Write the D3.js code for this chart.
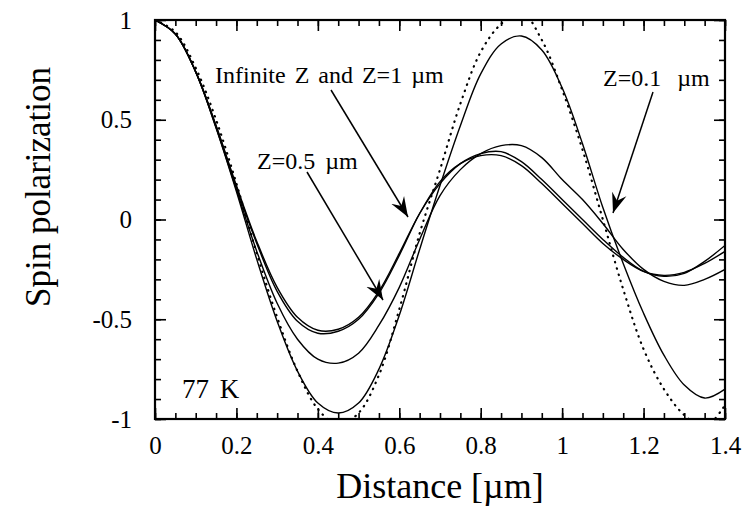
<!DOCTYPE html>
<html><head><meta charset="utf-8">
<script src="https://cdn.jsdelivr.net/npm/d3@7"></script>
<style>
body{margin:0;background:#fff}
svg{display:block}
text{font-family:"Liberation Serif","Times New Roman",serif;fill:#000}
</style>
</head><body>
<svg id="c" width="748" height="528"></svg>
<script>
// ---- data ----
const distance = [0,0.05,0.1,0.15,0.2,0.25,0.3,0.35,0.4,0.45,0.5,0.55,0.6,0.65,0.7,0.75,0.8,0.85,0.9,0.95,1.0,1.05,1.1,1.15,1.2,1.25,1.3,1.35,1.4];
const idealDotted = [1.0,0.94,0.76,0.5,0.18,-0.17,-0.49,-0.76,-0.95,-1.03,-0.97,-0.78,-0.45,-0.07,0.25,0.58,0.84,0.98,1.04,0.9,0.65,0.35,0.0,-0.35,-0.65,-0.85,-0.98,-1.04,-0.93];
const z01 = [1.0,0.93,0.74,0.46,0.14,-0.2,-0.51,-0.76,-0.92,-0.97,-0.92,-0.75,-0.48,-0.15,0.17,0.47,0.73,0.88,0.92,0.85,0.66,0.38,0.06,-0.22,-0.47,-0.68,-0.83,-0.895,-0.85];
const z05 = [1.0,0.93,0.74,0.46,0.15,-0.16,-0.42,-0.6,-0.7,-0.72,-0.67,-0.53,-0.34,-0.1,0.12,0.25,0.33,0.37,0.37,0.31,0.2,0.1,-0.02,-0.15,-0.25,-0.31,-0.33,-0.3,-0.25];
const zInf = [1.0,0.93,0.74,0.47,0.17,-0.11,-0.34,-0.49,-0.555,-0.55,-0.49,-0.36,-0.17,0.03,0.18,0.28,0.33,0.34,0.29,0.2,0.1,0.0,-0.1,-0.19,-0.26,-0.285,-0.27,-0.21,-0.13];
const z1 = [1.0,0.93,0.74,0.47,0.16,-0.12,-0.36,-0.51,-0.57,-0.56,-0.5,-0.37,-0.18,0.03,0.19,0.28,0.32,0.32,0.27,0.18,0.08,-0.02,-0.12,-0.2,-0.26,-0.28,-0.265,-0.22,-0.16];
const xTicks = [0,0.2,0.4,0.6,0.8,1,1.2,1.4];
const xMinor = d3.range(0,1.4001,0.05).map(v=>+v.toFixed(2));
const yTicks = [-1,-0.5,0,0.5,1];
const yMinor = d3.range(-1,1.0001,0.1).map(v=>+v.toFixed(2));
const xTitle = "Distance [\u00b5m]";
const yTitle = "Spin polarization";

// ---- layout ----
const L=155,R=725,T=20,B=419;
const svg=d3.select("#c");
const x=d3.scaleLinear().domain([0,1.4]).range([L,R]);
const y=d3.scaleLinear().domain([-1,1]).range([B,T]);

const defs=svg.append("defs");
defs.append("clipPath").attr("id","clip")
  .append("rect").attr("x",L).attr("y",T).attr("width",R-L).attr("height",B-T);
defs.append("marker").attr("id","ah").attr("viewBox","-20 -8 22 16")
  .attr("refX",0).attr("refY",0).attr("markerWidth",22).attr("markerHeight",16)
  .attr("markerUnits","userSpaceOnUse").attr("orient","auto")
  .append("path").attr("d","M0,0 L-20,-7.5 L-13,0 L-20,7.5 Z").attr("fill","#000");

// curves
const line=d3.line().x((d,i)=>x(distance[i])).y(d=>y(d)).curve(d3.curveCatmullRom);
const g=svg.append("g").attr("clip-path","url(#clip)");
g.append("path").attr("d",line(idealDotted)).attr("fill","none").attr("stroke","#000")
  .attr("stroke-width",2.2).attr("stroke-dasharray","0.5,6").attr("stroke-linecap","round");
[z01,z05,zInf,z1].forEach(s=>{
  g.append("path").attr("d",line(s)).attr("fill","none").attr("stroke","#000").attr("stroke-width",1.4);
});

// axes
const fmt=d=>String(d);
function ax(gen,scale,vals,size,fmtf,pad){
  return gen(scale).tickValues(vals).tickSize(-size).tickPadding(pad).tickFormat(fmtf);
}
const fs=25;
svg.append("g").attr("transform",`translate(0,${B})`).call(ax(d3.axisBottom,x,xMinor,6,"",0));
svg.append("g").attr("transform",`translate(0,${B})`).call(ax(d3.axisBottom,x,xTicks,11,fmt,17));
svg.append("g").attr("transform",`translate(0,${T})`).call(ax(d3.axisTop,x,xMinor,6,"",0));
svg.append("g").attr("transform",`translate(0,${T})`).call(ax(d3.axisTop,x,xTicks,11,"",0));
svg.append("g").attr("transform",`translate(${L},0)`).call(ax(d3.axisLeft,y,yMinor,6,"",0));
svg.append("g").attr("transform",`translate(${L},0)`).call(ax(d3.axisLeft,y,yTicks,11,fmt,23));
svg.append("g").attr("transform",`translate(${R},0)`).call(ax(d3.axisRight,y,yMinor,6,"",0));
svg.append("g").attr("transform",`translate(${R},0)`).call(ax(d3.axisRight,y,yTicks,11,"",0));

svg.selectAll(".domain").remove();
svg.selectAll(".tick line").attr("stroke","#000").attr("stroke-width",1.6);
svg.selectAll(".tick text").attr("font-size",fs).attr("fill","#000");

svg.append("rect").attr("x",L).attr("y",T).attr("width",R-L).attr("height",B-T)
  .attr("fill","none").attr("stroke","#000").attr("stroke-width",2.2);

// titles
svg.append("text").attr("x",440).attr("y",498).attr("text-anchor","middle")
  .attr("font-size",36).text(xTitle);
svg.append("text").attr("transform","translate(50,187) rotate(-90)").attr("text-anchor","middle")
  .attr("font-size",35).text(yTitle);

// annotations
svg.append("text").attr("x",182).attr("y",398).attr("font-size",27).attr("word-spacing",4).text("77 K");
svg.append("text").attr("x",215).attr("y",83).attr("font-size",24).attr("word-spacing",3)
  .text("Infinite Z and Z=1 \u00b5m");
svg.append("text").attr("x",257).attr("y",169).attr("font-size",24).attr("word-spacing",4)
  .text("Z=0.5 \u00b5m");
svg.append("text").attr("x",603).attr("y",86).attr("font-size",24).attr("word-spacing",10)
  .text("Z=0.1 \u00b5m");

const arrows=[[331,90,408,217],[307,172,383,300],[653,92,613,213]];
arrows.forEach(a=>{
  svg.append("line").attr("x1",a[0]).attr("y1",a[1]).attr("x2",a[2]).attr("y2",a[3])
    .attr("stroke","#000").attr("stroke-width",1.5).attr("marker-end","url(#ah)");
});
</script>
</body></html>
